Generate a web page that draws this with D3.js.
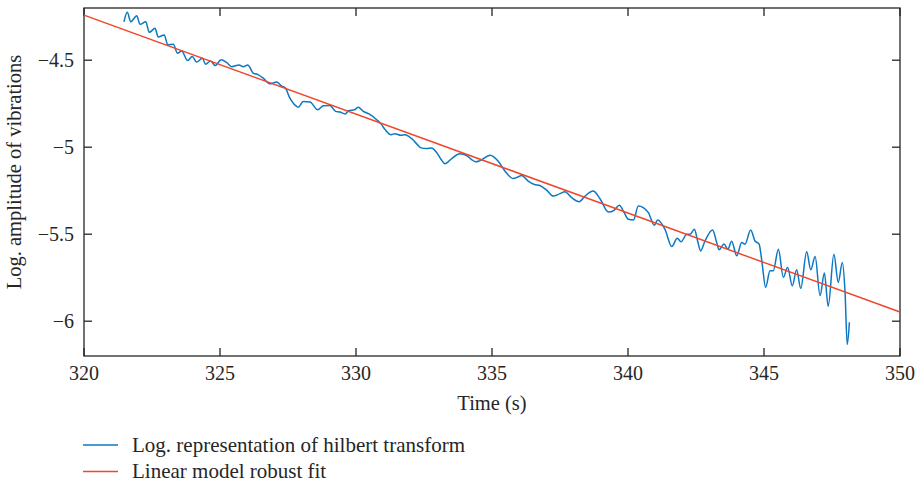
<!DOCTYPE html>
<html>
<head>
<meta charset="utf-8">
<script src="https://cdn.jsdelivr.net/npm/d3@7"></script>
<style>
    body { margin: 0; background: #fff; }
    svg { display: block; font-family: "Liberation Serif", "DejaVu Serif", serif; }
    .axis-line { stroke: #262626; stroke-width: 1.3; fill: none; }
    .tick-label { font-size: 20px; fill: #262626; }
    .axis-title { font-size: 20.5px; fill: #262626; }
    .legend-text { font-size: 21px; fill: #262626; }
</style>
</head>
<body>
<div id="chart"></div>
<script>
// log amplitude of hilbert transform
const hilbertTime = [
    321.47, 321.59, 321.72, 321.94, 322.06, 322.27, 322.40, 322.61, 322.73, 322.95,
    323.08, 323.28, 323.44, 323.59, 323.81, 323.98, 324.14, 324.35, 324.47, 324.66,
    324.82, 325.04, 325.25, 325.43, 325.70, 325.86, 326.02, 326.22, 326.41, 326.59,
    326.84, 327.08, 327.27, 327.39, 327.57, 327.82, 327.88, 328.06, 328.31, 328.59,
    328.80, 329.04, 329.25, 329.41, 329.60, 329.74, 329.94, 330.08, 330.27, 330.48,
    330.76, 330.92, 331.07, 331.29, 331.43, 331.65, 331.80, 332.05, 332.23, 332.39,
    332.60, 332.78, 332.97, 333.13, 333.27, 333.52, 333.82, 334.07, 334.25, 334.40,
    334.56, 334.93, 335.23, 335.48, 335.78, 335.97, 336.09, 336.33, 336.56, 336.76,
    337.01, 337.25, 337.50, 337.68, 337.93, 338.21, 338.42, 338.72, 338.97, 339.28,
    339.50, 339.68, 339.86, 340.01, 340.20, 340.38, 340.56, 340.75, 340.97, 341.09,
    341.36, 341.61, 341.81, 341.95, 342.16, 342.28, 342.44, 342.56, 342.67, 342.83,
    343.11, 343.26, 343.35, 343.53, 343.67, 343.81, 344.00, 344.18, 344.30, 344.51,
    344.67, 344.82, 344.92, 345.06, 345.22, 345.34, 345.53, 345.71, 345.87, 346.04,
    346.20, 346.35, 346.57, 346.72, 346.88, 347.06, 347.22, 347.36, 347.57, 347.73,
    347.88, 347.98, 348.06, 348.14
];
const hilbertLogAmp = [
    -4.279, -4.225, -4.279, -4.245, -4.294, -4.279, -4.340, -4.317, -4.367, -4.355,
    -4.412, -4.408, -4.460, -4.447, -4.502, -4.479, -4.511, -4.489, -4.523, -4.504,
    -4.531, -4.498, -4.514, -4.537, -4.527, -4.538, -4.527, -4.574, -4.584, -4.603,
    -4.636, -4.626, -4.649, -4.657, -4.718, -4.766, -4.771, -4.737, -4.740, -4.785,
    -4.762, -4.760, -4.794, -4.798, -4.809, -4.789, -4.785, -4.771, -4.794, -4.809,
    -4.842, -4.866, -4.899, -4.928, -4.922, -4.932, -4.928, -4.951, -4.981, -5.004,
    -5.008, -5.004, -5.032, -5.071, -5.095, -5.065, -5.038, -5.048, -5.071, -5.084,
    -5.077, -5.046, -5.081, -5.138, -5.180, -5.170, -5.162, -5.195, -5.214, -5.220,
    -5.247, -5.281, -5.267, -5.256, -5.290, -5.313, -5.281, -5.252, -5.296, -5.373,
    -5.361, -5.334, -5.376, -5.414, -5.418, -5.338, -5.347, -5.376, -5.449, -5.418,
    -5.472, -5.571, -5.523, -5.544, -5.500, -5.500, -5.472, -5.539, -5.596, -5.539,
    -5.476, -5.548, -5.590, -5.557, -5.586, -5.540, -5.624, -5.548, -5.557, -5.476,
    -5.539, -5.557, -5.653, -5.805, -5.710, -5.710, -5.586, -5.748, -5.691, -5.796,
    -5.705, -5.811, -5.601, -5.705, -5.628, -5.853, -5.723, -5.914, -5.615, -5.777,
    -5.662, -5.834, -6.134, -6.006
];

// robust linear fit, end points
const fitTime = [320, 350];
const fitLogAmp = [-4.241, -5.947];

const xTicks = [320, 325, 330, 335, 340, 345, 350];
const yTicks = [-6, -5.5, -5, -4.5];
const xDomain = [320, 350];
const yDomain = [-6.2, -4.2];

const xTitle = "Time (s)";
const yTitle = "Log. amplitude of vibrations";
const seriesNames = ["Log. representation of hilbert transform", "Linear model robust fit"];
const seriesColors = ["#0b78c4", "#f0462b"];

const width = 921, height = 485;
const margin = { top: 8, right: 21, bottom: 129, left: 84 };
const innerW = width - margin.left - margin.right;
const innerH = height - margin.top - margin.bottom;
const tickLen = 8;

const svg = d3.select("#chart").append("svg")
    .attr("width", width)
    .attr("height", height);

const g = svg.append("g")
    .attr("transform", "translate(" + margin.left + "," + margin.top + ")");

const x = d3.scaleLinear().domain(xDomain).range([0, innerW]);
const y = d3.scaleLinear().domain(yDomain).range([innerH, 0]);

// box
g.append("rect")
    .attr("class", "axis-line")
    .attr("x", 0).attr("y", 0)
    .attr("width", innerW).attr("height", innerH);

// ticks pointing inwards on every side (matlab box)
function innerTicks(sel, scale, side) {
    sel.selectAll("line." + side)
        .data(side === "bottom" || side === "top" ? xTicks : yTicks)
        .enter().append("line")
        .attr("class", "axis-line " + side)
        .attr("x1", d => side === "left" ? 0 : side === "right" ? innerW : scale(d))
        .attr("x2", d => side === "left" ? tickLen : side === "right" ? innerW - tickLen : scale(d))
        .attr("y1", d => side === "top" ? 0 : side === "bottom" ? innerH : scale(d))
        .attr("y2", d => side === "top" ? tickLen : side === "bottom" ? innerH - tickLen : scale(d));
}
innerTicks(g, x, "bottom");
innerTicks(g, x, "top");
innerTicks(g, y, "left");
innerTicks(g, y, "right");

g.selectAll(".x-label").data(xTicks).enter().append("text")
    .attr("class", "tick-label x-label")
    .attr("x", d => x(d))
    .attr("y", innerH + 24)
    .attr("text-anchor", "middle")
    .text(d => d3.format("d")(d));

g.selectAll(".y-label").data(yTicks).enter().append("text")
    .attr("class", "tick-label y-label")
    .attr("x", -10)
    .attr("y", d => y(d))
    .attr("dy", "0.35em")
    .attr("text-anchor", "end")
    .text(d => d3.format("")(d).replace("-", "\u2212"));

g.append("text")
    .attr("class", "axis-title")
    .attr("x", innerW / 2)
    .attr("y", innerH + 54)
    .attr("text-anchor", "middle")
    .text(xTitle);

g.append("text")
    .attr("class", "axis-title")
    .attr("transform", "translate(" + (-63) + "," + (innerH / 2 - 10) + ") rotate(-90)")
    .attr("text-anchor", "middle")
    .text(yTitle);

// series
const hilbert = hilbertTime.map((t, i) => ({ t: t, v: hilbertLogAmp[i] }));
const fit = fitTime.map((t, i) => ({ t: t, v: fitLogAmp[i] }));

const line = d3.line()
    .x(d => x(d.t))
    .y(d => y(d.v));

g.append("path")
    .datum(hilbert)
    .attr("fill", "none")
    .attr("stroke", seriesColors[0])
    .attr("stroke-width", 1.5)
    .attr("stroke-linejoin", "round")
    .attr("d", line.curve(d3.curveMonotoneX));

g.append("path")
    .datum(fit)
    .attr("fill", "none")
    .attr("stroke", seriesColors[1])
    .attr("stroke-width", 1.5)
    .attr("d", line.curve(d3.curveLinear));

// legend below the axes
const legend = svg.append("g")
    .attr("transform", "translate(83,445)");
const items = legend.selectAll("g").data(seriesNames).enter().append("g")
    .attr("transform", (d, i) => "translate(0," + (i * 26.5) + ")");
items.append("line")
    .attr("x1", 0).attr("x2", 35)
    .attr("stroke", (d, i) => seriesColors[i])
    .attr("stroke-width", 1.5);
items.append("text")
    .attr("class", "legend-text")
    .attr("x", 49)
    .attr("dy", "0.32em")
    .text(d => d);
</script>
</body>
</html>
